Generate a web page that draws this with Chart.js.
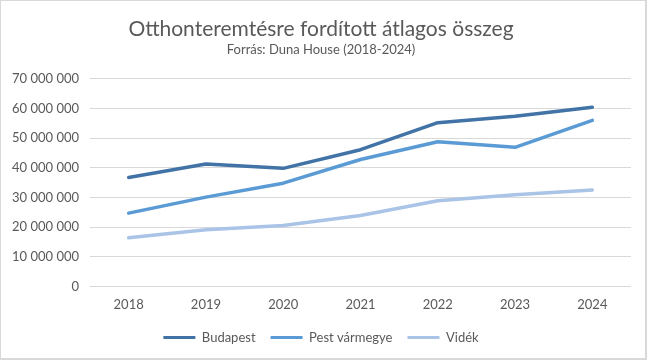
<!DOCTYPE html>
<html>
<head>
<meta charset="utf-8">
<script src="https://cdn.jsdelivr.net/npm/chart.js@4"></script>
<style>
    html, body { margin: 0; padding: 0; background: #fff; }
    #wrap { position: absolute; left: 0; top: 0; width: 644px; height: 357px; border: 2px solid #d9d9d9; border-left-width: 1px; border-top-width: 1px; box-sizing: content-box; }
    #chart { display: block; }
</style>
</head>
<body>
<div id="wrap"><canvas id="chart" width="644" height="357"></canvas></div>
<script>
// Data
const years = ['2018', '2019', '2020', '2021', '2022', '2023', '2024'];
const budapest = [36700000, 41300000, 39800000, 46100000, 55200000, 57400000, 60400000];
const pestVarmegye = [24700000, 30100000, 34800000, 42800000, 48800000, 46900000, 56000000];
const videk = [16400000, 19100000, 20500000, 23900000, 28900000, 30900000, 32500000];
const yTicks = [0, 10000000, 20000000, 30000000, 40000000, 50000000, 60000000, 70000000];

const textColor = '#595959';
const fontFamily = "Lato, 'Open Sans', sans-serif";

function fmt(v) {
    return String(v).replace(/\B(?=(\d{3})+(?!\d))/g, ' ');
}

function lineSet(label, data, color) {
    return {
        label: label,
        data: data,
        borderColor: color,
        backgroundColor: color,
        borderWidth: 3.5,
        pointRadius: 0,
        pointHoverRadius: 0,
        tension: 0,
        borderCapStyle: 'round',
        borderJoinStyle: 'round'
    };
}

new Chart(document.getElementById('chart'), {
    type: 'line',
    data: {
        labels: years,
        datasets: [
            lineSet('Budapest', budapest, '#4273a6'),
            lineSet('Pest vármegye', pestVarmegye, '#5b9bd5'),
            lineSet('Vidék', videk, '#a9c4e6')
        ]
    },
    options: {
        responsive: false,
        animation: false,
        layout: { padding: { left: 10, right: 14, top: 0, bottom: 4 } },
        plugins: {
            title: {
                display: true,
                text: 'Otthonteremtésre fordított átlagos összeg',
                color: textColor,
                font: { family: fontFamily, size: 21, weight: 'normal' },
                padding: { top: 16, bottom: 0 }
            },
            subtitle: {
                display: true,
                text: 'Forrás: Duna House (2018-2024)',
                color: textColor,
                font: { family: fontFamily, size: 13, weight: 'normal' },
                padding: { top: 0, bottom: 21 }
            },
            legend: {
                position: 'bottom',
                labels: {
                    color: textColor,
                    font: { family: fontFamily, size: 13 },
                    boxWidth: 32,
                    boxHeight: 3,
                    padding: 15,
                    generateLabels: (chart) => Chart.defaults.plugins.legend.labels.generateLabels(chart).map(l => {
                        l.lineWidth = 0;
                        return l;
                    })
                }
            },
            tooltip: { enabled: false }
        },
        scales: {
            x: {
                offset: true,
                grid: { display: false },
                border: { display: false },
                ticks: { color: textColor, font: { family: fontFamily, size: 13 }, padding: 3 }
            },
            y: {
                min: 0,
                max: 70000000,
                afterBuildTicks: (axis) => { axis.ticks = yTicks.map(v => ({ value: v })); },
                afterFit: (axis) => { axis.width = 79; },
                grid: { color: '#d9d9d9', lineWidth: 1, drawTicks: false },
                border: { display: false },
                ticks: {
                    color: textColor,
                    font: { family: fontFamily, size: 13 },
                    padding: 11,
                    callback: (v) => fmt(v)
                }
            }
        }
    }
});
</script>
</body>
</html>
